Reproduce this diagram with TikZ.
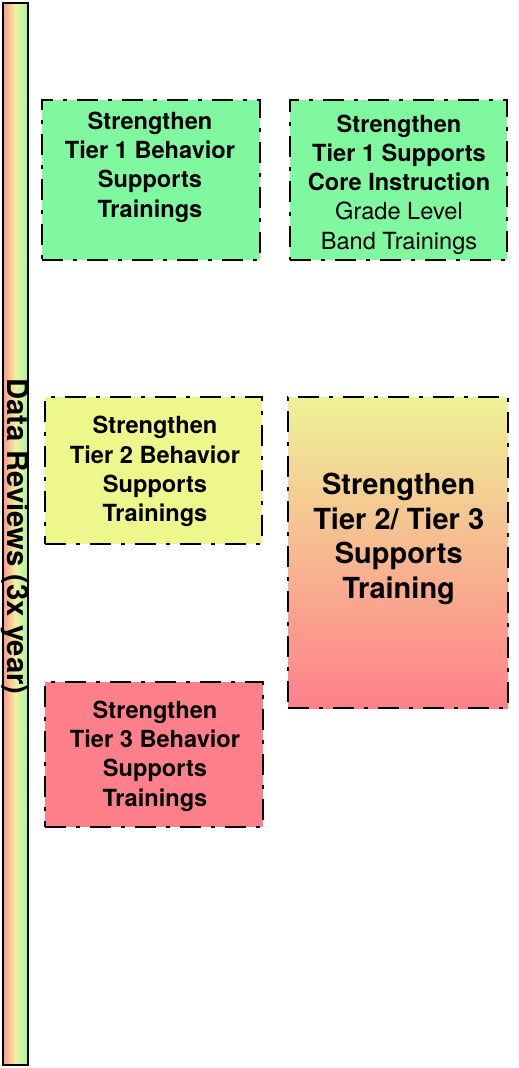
\documentclass[tikz,border=0pt]{standalone}
\usepackage{fontspec}
\setmainfont{TeX Gyre Heros}
\definecolor{tgreen}{RGB}{128,248,160}
\definecolor{tyellow}{RGB}{238,247,140}
\definecolor{tred}{RGB}{255,128,138}
\definecolor{gtop}{RGB}{238,242,150}
\definecolor{gbot}{RGB}{255,128,138}
\definecolor{barL}{RGB}{255,150,140}
\definecolor{barM}{RGB}{240,242,160}
\definecolor{barR}{RGB}{165,245,160}
\tikzset{
  dashbox/.style={draw=black, line width=2.7pt, rectangle, inner sep=0pt,
    dash pattern=on 21pt off 10pt on 4pt off 10pt},
  boxtext/.style={align=center, inner sep=0pt,
    font=\fontsize{23.6}{29.3}\selectfont},
  bigtext/.style={align=center, inner sep=0pt,
    font=\fontsize{29}{34.5}\selectfont\bfseries},
}
\begin{document}
\begin{tikzpicture}[x=1pt,y=-1pt]
\useasboundingbox (0,0) rectangle (519,1068);
% left bar
\node[draw=black, line width=2.6pt, rectangle, inner sep=0pt,
  minimum width=25pt, minimum height=1062pt,
  left color=barL, right color=barR, middle color=barM] (bar) at (15.5,534) {};
\node[rotate=-90, inner sep=0pt, font=\fontsize{29.3}{34}\selectfont\bfseries]
  (bartext) at (15.5,536.5) {Data Reviews (3x year)};
% boxes
\node[dashbox, fill=tgreen, minimum width=218pt, minimum height=160pt] (b1) at (151,180) {};
\node[dashbox, fill=tgreen, minimum width=217pt, minimum height=160pt] (b2) at (398.5,180) {};
\node[dashbox, fill=tyellow, minimum width=217pt, minimum height=147pt] (b3) at (153.5,470.5) {};
\node[dashbox, top color=gtop, bottom color=gbot, minimum width=220pt, minimum height=311pt] (b4) at (398,552.5) {};
\node[dashbox, fill=tred, minimum width=218pt, minimum height=145pt] (b5) at (154,754.5) {};
% texts
\node[boxtext] (t1) at (150,167) {\bfseries Strengthen\\\bfseries Tier 1 Behavior\\\bfseries Supports\\\bfseries Trainings};
\node[boxtext] (t2) at (399,184.5) {\bfseries Strengthen\\\bfseries Tier 1 Supports\\\bfseries Core Instruction\\Grade Level\\Band Trainings};
\node[boxtext] (t3) at (155,471.5) {\bfseries Strengthen\\\bfseries Tier 2 Behavior\\\bfseries Supports\\\bfseries Trainings};
\node[bigtext] (t4) at (398.7,539) {Strengthen\\Tier 2/ Tier 3\\Supports\\Training};
\node[boxtext] (t5) at (155,756) {\bfseries Strengthen\\\bfseries Tier 3 Behavior\\\bfseries Supports\\\bfseries Trainings};
\end{tikzpicture}
\end{document}
